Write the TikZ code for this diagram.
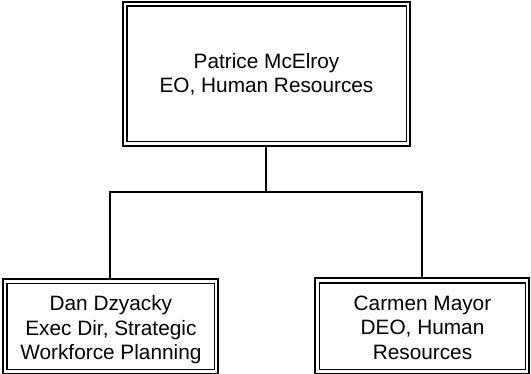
\documentclass[tikz,border=0pt]{standalone}
\usepackage{fontspec}
\setmainfont{Liberation Sans}
\begin{document}
\begin{tikzpicture}[x=1pt,y=-1pt,
  box/.style={draw=black,line width=2pt,inner sep=0pt,outer sep=0pt,rectangle},
  innerbox/.style={draw=black,line width=1.4pt},
  label/.style={align=center,inner sep=0pt,font=\fontsize{20.8}{24.5}\selectfont},
  conn/.style={draw=black,line width=2pt}]
\useasboundingbox[fill=white] (0,0) rectangle (531,373);
\node[box,minimum width=287.5pt,minimum height=144.5pt] (top) at (266.25,73.75) {};
\node[box,minimum width=215.3pt,minimum height=95.3pt] (left) at (110.35,326.35) {};
\node[box,minimum width=214pt,minimum height=95.7pt] (right) at (422,326.15) {};
\foreach \n in {top,left,right}{
  \draw[innerbox] ([shift={(4.4,4.5)}]\n.north west) rectangle ([shift={(-3.8,-4.6)}]\n.south east);
}
\node[label] (toptext) at (266.5,74.2) {Patrice McElroy\\EO, Human Resources};
\node[label] (lefttext) at (110.9,329.8) {Dan Dzyacky\\Exec Dir, Strategic\\Workforce Planning};
\node[label] (righttext) at (422.5,327.7) {Carmen Mayor\\DEO, Human\\Resources};
\coordinate (junction) at ([shift={(0,46)}]top.south);
\draw[conn] (top.south) -- (junction);
\draw[conn] (junction) -| (left.north);
\draw[conn] (junction) -| (right.north);
\end{tikzpicture}
\end{document}
